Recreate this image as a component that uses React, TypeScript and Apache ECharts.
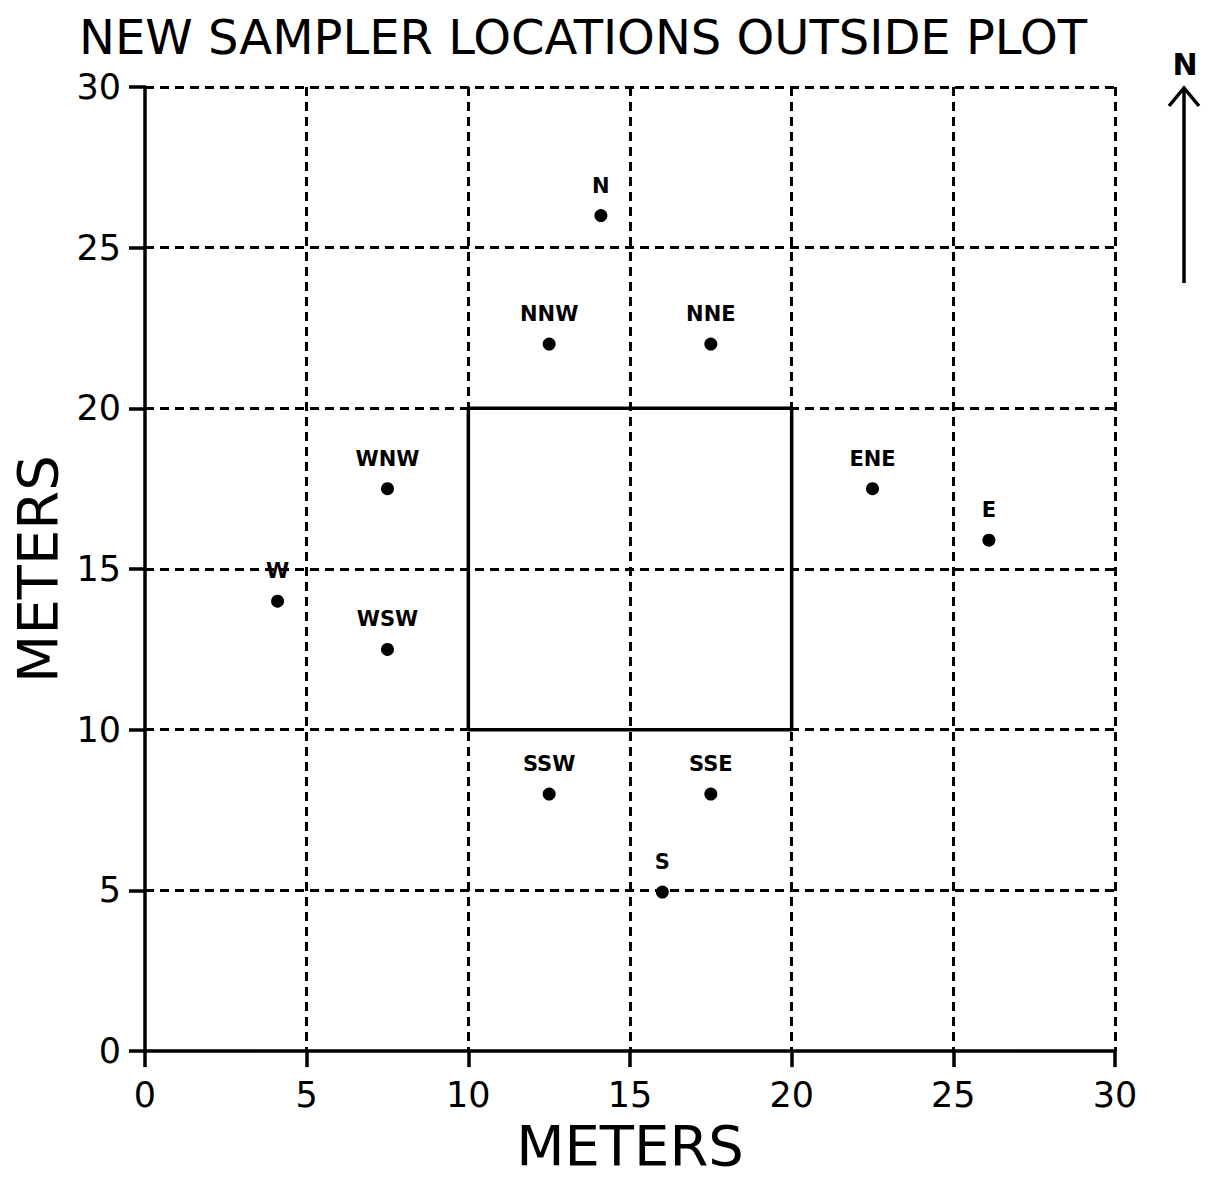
import React, { useEffect, useRef } from "react";
import * as echarts from "echarts";

const titleText = "NEW SAMPLER LOCATIONS OUTSIDE PLOT";
const xAxisName = "METERS";
const yAxisName = "METERS";
const northLabel = "N";

const samplerNames = ["N", "NNW", "NNE", "WNW", "ENE", "E", "W", "WSW", "SSW", "SSE", "S"];
const samplerX = [14.1, 12.5, 17.5, 7.5, 22.5, 26.1, 4.1, 7.5, 12.5, 17.5, 16.0];
const samplerY = [26.0, 22.0, 22.0, 17.5, 17.5, 15.9, 14.0, 12.5, 8.0, 8.0, 4.95];

const plotBoundaryX = [10, 20, 20, 10, 10];
const plotBoundaryY = [10, 10, 20, 20, 10];

const axisMin = 0;
const axisMax = 30;
const axisInterval = 5;

const FONT = "'DejaVu Sans', 'Liberation Sans', sans-serif";

export default function App() {
  const ref = useRef<HTMLDivElement>(null);

  useEffect(() => {
    document.body.style.margin = "0";
    if (!ref.current) return;
    const chart = echarts.init(ref.current, null, { renderer: "svg" });

    const axisCommon = {
      type: "value" as const,
      min: axisMin,
      max: axisMax,
      interval: axisInterval,
      nameLocation: "middle" as const,
      nameTextStyle: { fontFamily: FONT, fontSize: 56, color: "#000" },
      axisLine: { show: true, onZero: false, lineStyle: { color: "#000", width: 3.5 } },
      axisTick: { show: true, inside: false, length: 16, lineStyle: { color: "#000", width: 3.5 } },
      axisLabel: { fontFamily: FONT, fontSize: 35, color: "#000" },
      splitLine: {
        show: true,
        showMinLine: false,
        lineStyle: { color: "#000", width: 3, type: [9, 6] },
      },
    };

    chart.setOption({
      animation: false,
      backgroundColor: "#fff",
      title: {
        text: titleText,
        left: 578,
        textAlign: "center",
        top: 8,
        textStyle: { fontFamily: FONT, fontSize: 48, fontWeight: "normal", color: "#000" },
      },
      grid: { left: 145, right: 101, top: 87, bottom: 116, containLabel: false },
      xAxis: {
        ...axisCommon,
        name: xAxisName,
        nameGap: 64,
        axisLabel: { ...axisCommon.axisLabel, margin: 26 },
      },
      yAxis: {
        ...axisCommon,
        name: yAxisName,
        nameGap: 74,
        nameRotate: 90,
        axisLabel: { ...axisCommon.axisLabel, margin: 24 },
      },
      series: [
        {
          type: "line",
          data: plotBoundaryX.map((x, i) => [x, plotBoundaryY[i]]),
          symbol: "none",
          lineStyle: { color: "#000", width: 3.5 },
          silent: true,
          z: 3,
        },
        {
          type: "scatter",
          symbol: "circle",
          symbolSize: 13,
          itemStyle: { color: "#000", opacity: 1 },
          data: samplerNames.map((n, i) => ({ name: n, value: [samplerX[i], samplerY[i]] })),
          label: {
            show: true,
            position: "top",
            distance: 13,
            formatter: "{b}",
            fontFamily: FONT,
            fontSize: 21,
            fontWeight: "bold",
            color: "#000",
            opacity: 1,
          },
          z: 4,
        },
      ],
      graphic: [
        {
          type: "line",
          shape: { x1: 1184, y1: 88, x2: 1184, y2: 283 },
          style: { stroke: "#000", lineWidth: 3.5 },
        },
        {
          type: "polyline",
          shape: { points: [[1169, 106], [1184, 88], [1199, 106]] },
          style: { stroke: "#000", lineWidth: 3.5, fill: null },
        },
        {
          type: "text",
          x: 1185,
          y: 64,
          style: {
            text: northLabel,
            fontFamily: FONT,
            fontSize: 30,
            fontWeight: "bold",
            fill: "#000",
            align: "center",
            verticalAlign: "middle",
          },
        },
      ],
    });

    return () => chart.dispose();
  }, []);

  return <div ref={ref} style={{ width: 1216, height: 1178 }} />;
}
